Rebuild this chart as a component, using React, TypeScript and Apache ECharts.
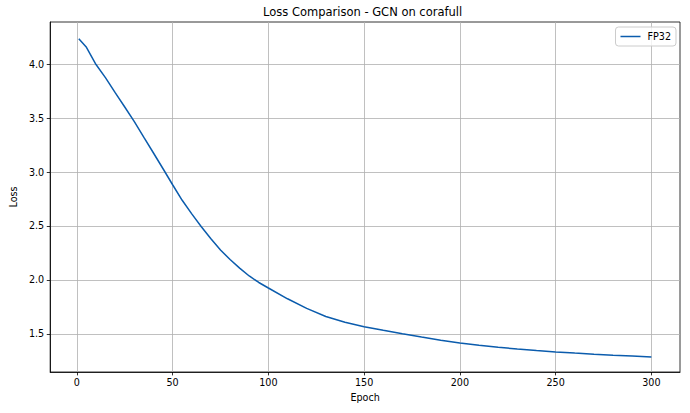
import React, { useEffect, useRef } from "react";
import * as echarts from "echarts";

const epochs = [1, 5, 10, 15, 20, 25, 30, 35, 40, 45, 50, 55, 60, 65, 70, 75, 80, 85, 90, 95, 100, 110, 120, 130, 140, 150, 160, 170, 180, 190, 200, 210, 220, 230, 240, 250, 260, 270, 280, 290, 300];
const fp32Loss = [4.235, 4.155, 3.995, 3.872, 3.735, 3.602, 3.466, 3.32, 3.176, 3.03, 2.882, 2.738, 2.612, 2.493, 2.382, 2.277, 2.19, 2.11, 2.037, 1.977, 1.926, 1.826, 1.737, 1.662, 1.608, 1.568, 1.534, 1.502, 1.472, 1.443, 1.416, 1.395, 1.377, 1.361, 1.347, 1.334, 1.323, 1.313, 1.304, 1.296, 1.288];
const xTicks = [0, 50, 100, 150, 200, 250, 300];
const yTicks = [1.5, 2.0, 2.5, 3.0, 3.5, 4.0];
const seriesName = "FP32";
const titleText = "Loss Comparison - GCN on corafull";

export default function App() {
  const ref = useRef<HTMLDivElement>(null);
  useEffect(() => {
    if (!ref.current) return;
    const chart = echarts.init(ref.current, undefined, { renderer: "svg" });
    const font = "DejaVu Sans";
    const data = epochs.map((e, i) => [e, fp32Loss[i]]);
    chart.setOption({
      animation: false,
      backgroundColor: "#ffffff",
      textStyle: { fontFamily: font },
      title: {
        text: titleText,
        left: 263,
        top: 6,
        padding: 0,
        textStyle: { fontFamily: font, fontSize: 11.5, fontWeight: "normal", color: "#000" },
      },
      legend: {
        right: 14,
        top: 27,
        padding: [4, 5, 4, 5],
        backgroundColor: "rgba(255,255,255,0.8)",
        borderColor: "#cccccc",
        borderWidth: 1,
        borderRadius: 3,
        icon: "rect",
        itemWidth: 20,
        itemHeight: 1.5,
        textStyle: { fontFamily: font, fontSize: 9.6, color: "#000", lineHeight: 11, padding: [0, 0, 0, 2] },
        data: [seriesName],
      },
      grid: {
        left: 46,
        right: 10,
        top: 22,
        bottom: 41,
        show: true,
        borderColor: "#000",
        borderWidth: 0.8,
        backgroundColor: "transparent",
      },
      xAxis: {
        type: "value",
        min: -13.95,
        max: 314.95,
        name: "Epoch",
        nameLocation: "middle",
        nameGap: 20,
        nameTextStyle: { fontFamily: font, fontSize: 9.6, color: "#000" },
        axisLine: { show: true, onZero: false, lineStyle: { color: "#000", width: 0.8 } },
        axisTick: { show: true, length: 3.4, customValues: xTicks, lineStyle: { color: "#000", width: 0.8 } },
        axisLabel: { customValues: xTicks, fontFamily: font, fontSize: 9.6, color: "#000", margin: 5, showMinLabel: true, showMaxLabel: true },
        splitLine: { show: true, lineStyle: { color: "#b0b0b0", width: 0.8 } },
      },
      yAxis: {
        type: "value",
        min: 1.148,
        max: 4.389,
        name: "Loss",
        nameLocation: "middle",
        nameGap: 27,
        nameRotate: 90,
        nameTextStyle: { fontFamily: font, fontSize: 9.6, color: "#000" },
        axisLine: { show: true, onZero: false, lineStyle: { color: "#000", width: 0.8 } },
        axisTick: { show: true, length: 3.4, customValues: yTicks, lineStyle: { color: "#000", width: 0.8 } },
        axisLabel: {
          customValues: yTicks,
          fontFamily: font,
          fontSize: 9.6,
          color: "#000",
          margin: 6,
          formatter: (v: number) => v.toFixed(1),
        },
        splitLine: { show: true, lineStyle: { color: "#b0b0b0", width: 0.8 } },
      },
      series: [
        {
          name: seriesName,
          type: "line",
          data,
          smooth: false,
          symbol: "none",
          color: "#0b5cad",
          lineStyle: { color: "#0b5cad", width: 1.5 },
        },
      ],
    });
    return () => chart.dispose();
  }, []);
  return <div ref={ref} style={{ position: "fixed", left: 0, top: 0, width: 690, height: 413 }} />;
}
